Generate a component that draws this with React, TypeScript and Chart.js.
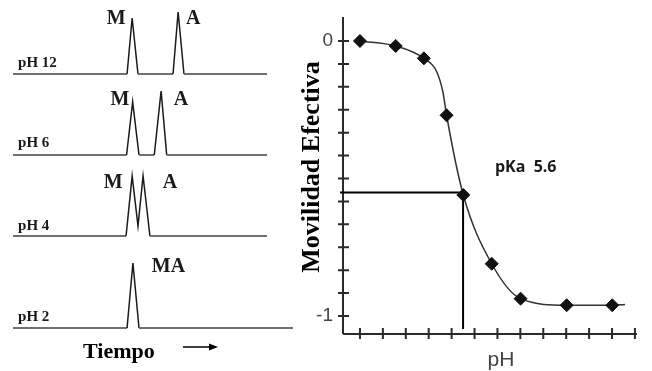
import React, { useEffect, useRef } from 'react';
import { Chart, registerables } from 'chart.js';

Chart.register(...registerables);

// ---------- Left panel: electropherograms (time units, signal units) ----------
const traceNames = ['pH 12', 'pH 6', 'pH 4', 'pH 2'];
const traceOffsets = [29.7, 21.6, 13.5, 4.3];

const timesPH12 = [0, 4.49, 4.69, 4.92, 6.30, 6.50, 6.73, 10];
const signalPH12 = [0, 0, 5.6, 0, 0, 6.2, 0, 0];
const timesPH6 = [0, 4.47, 4.71, 4.96, 5.56, 5.83, 6.05, 10];
const signalPH6 = [0, 0, 5.3, 0, 0, 6.4, 0, 0];
const timesPH4 = [0, 4.45, 4.69, 4.92, 5.12, 5.39, 10];
const signalPH4 = [0, 0, 6.0, 1.0, 6.0, 0, 0];
const timesPH2 = [0, 4.49, 4.72, 4.96, 11.02];
const signalPH2 = [0, 0, 6.5, 0, 0];

const peakLabels = [['M', 'A'], ['M', 'A'], ['M', 'A'], ['MA']];
const peakLabelTimes = [[4.06, 7.09], [4.21, 6.61], [3.94, 6.18], [6.12]];
const peakLabelHeights = [[5.5, 5.5], [5.5, 5.5], [5.3, 5.3], [6.1]];
const traceLabelTime = 0.2;
const traceLabelHeights = [1.1, 1.2, 1.0, 1.1];
const timeAxisLabel = 'Tiempo';

// ---------- Right panel: effective mobility vs pH ----------
const pHValues = [1.0, 2.56, 3.79, 4.78, 5.51, 6.75, 8.01, 10.02, 12.01];
const mobility = [0, -0.018, -0.063, -0.27, -0.56, -0.81, -0.937, -0.961, -0.961];
const curvePH = [1.0, 2.56, 3.79, 4.35, 4.63, 4.78, 5.51, 6.75, 8.01, 10.02, 12.01, 12.57];
const curveMobility = [0, -0.018, -0.063, -0.112, -0.19, -0.27, -0.56, -0.81, -0.937, -0.961, -0.961, -0.958];
const xTicks = [1, 2, 3, 4, 5, 6, 7, 8, 9, 10, 11, 12, 13];
const yTicks = [0, -0.0833, -0.1667, -0.25, -0.3333, -0.4167, -0.5, -0.5833, -0.6667, -0.75, -0.8333, -0.9167, -1];
const yTickLabels = ['0', '-1'];
const yTickLabelValues = [0, -1];
const pKaText = 'pKa  5.6';
const pKaX = 5.5;
const pKaY = -0.551;
const xTitle = 'pH';
const yTitle = 'Movilidad Efectiva';

const traces = [
  { t: timesPH12, s: signalPH12 },
  { t: timesPH6, s: signalPH6 },
  { t: timesPH4, s: signalPH4 },
  { t: timesPH2, s: signalPH2 },
];

export default function App() {
  const leftRef = useRef<HTMLCanvasElement | null>(null);
  const rightRef = useRef<HTMLCanvasElement | null>(null);

  useEffect(() => {
    const leftText = {
      id: 'leftText',
      afterDatasetsDraw(chart: any) {
        const { ctx } = chart;
        const x = chart.scales.x;
        const y = chart.scales.y;
        ctx.save();
        ctx.fillStyle = '#1a1a1a';
        ctx.textAlign = 'center';
        ctx.textBaseline = 'middle';
        ctx.font = "bold 20px 'Liberation Serif'";
        traces.forEach((_, i) => {
          peakLabels[i].forEach((lab, k) => {
            ctx.fillText(lab, x.getPixelForValue(peakLabelTimes[i][k]), y.getPixelForValue(traceOffsets[i] + peakLabelHeights[i][k]));
          });
        });
        ctx.font = "bold 15px 'Liberation Serif'";
        ctx.textAlign = 'left';
        traceNames.forEach((n, i) => {
          ctx.fillText(n, x.getPixelForValue(traceLabelTime), y.getPixelForValue(traceOffsets[i] + traceLabelHeights[i]));
        });
        ctx.font = "bold 22px 'Liberation Serif'";
        ctx.textAlign = 'center';
        ctx.fillStyle = '#000';
        ctx.fillText(timeAxisLabel, x.getPixelForValue(4.17), y.getPixelForValue(1.9));
        // arrow
        const ax0 = x.getPixelForValue(6.69);
        const ax1 = x.getPixelForValue(8.07);
        const ay = y.getPixelForValue(2.4);
        ctx.strokeStyle = '#000';
        ctx.lineWidth = 1.5;
        ctx.beginPath();
        ctx.moveTo(ax0, ay);
        ctx.lineTo(ax1 - 6, ay);
        ctx.stroke();
        ctx.beginPath();
        ctx.moveTo(ax1, ay);
        ctx.lineTo(ax1 - 9, ay - 3.5);
        ctx.lineTo(ax1 - 9, ay + 3.5);
        ctx.closePath();
        ctx.fillStyle = '#000';
        ctx.fill();
        ctx.restore();
      },
    };

    const left = new Chart(leftRef.current as HTMLCanvasElement, {
      type: 'scatter',
      data: {
        datasets: traces.map((tr, i) => ({
          data: tr.t.map((t, j) => ({ x: t, y: traceOffsets[i] + tr.s[j] })),
          showLine: true,
          pointRadius: 0,
          borderColor: '#222',
          borderWidth: 1.5,
          tension: 0,
          clip: false,
          segment: {
            borderColor: (c: any) => (c.p0.parsed.y === c.p1.parsed.y ? '#707070' : '#1a1a1a'),
            borderWidth: (c: any) => (c.p0.parsed.y === c.p1.parsed.y ? 2 : 1.5),
          },
        })) as any,
      },
      options: {
        animation: false,
        responsive: false,
        events: [],
        layout: { padding: 0 },
        plugins: { legend: { display: false }, tooltip: { enabled: false } },
        scales: {
          x: { type: 'linear', display: false, min: -0.512, max: 11.14 },
          y: { type: 'linear', display: false, min: 0, max: 37.1 },
        },
      },
      plugins: [leftText],
    });

    const rightDecor = {
      id: 'rightDecor',
      beforeDatasetsDraw(chart: any) {
        const { ctx, chartArea: ca } = chart;
        const x = chart.scales.x;
        const y = chart.scales.y;
        ctx.save();
        ctx.strokeStyle = '#2a2a2a';
        ctx.lineWidth = 2;
        ctx.beginPath();
        ctx.moveTo(ca.left, ca.top);
        ctx.lineTo(ca.left, ca.bottom);
        ctx.moveTo(ca.left, ca.bottom);
        ctx.lineTo(ca.right, ca.bottom);
        yTicks.forEach((v) => {
          const py = y.getPixelForValue(v);
          ctx.moveTo(ca.left - 5, py);
          ctx.lineTo(ca.left + 6, py);
        });
        xTicks.forEach((v) => {
          const px = x.getPixelForValue(v);
          ctx.moveTo(px, ca.bottom - 6);
          ctx.lineTo(px, ca.bottom + 5);
        });
        ctx.stroke();
        ctx.restore();
      },
      afterDatasetsDraw(chart: any) {
        const { ctx, chartArea: ca } = chart;
        const x = chart.scales.x;
        const y = chart.scales.y;
        ctx.save();
        ctx.fillStyle = '#444';
        ctx.font = "19px 'Liberation Sans'";
        ctx.textAlign = 'right';
        ctx.textBaseline = 'middle';
        yTickLabels.forEach((lab, i) => {
          ctx.fillText(lab, ca.left - 10, y.getPixelForValue(yTickLabelValues[i]));
        });
        ctx.font = "21px 'Liberation Sans'";
        ctx.textAlign = 'center';
        ctx.fillStyle = '#444';
        ctx.fillText(xTitle, x.getPixelForValue(7.15), ca.bottom + 26);
        ctx.fillStyle = '#000';
        ctx.font = "bold 26px 'Liberation Serif'";
        ctx.translate(16, (ca.top + ca.bottom) / 2);
        ctx.rotate(-Math.PI / 2);
        ctx.fillText(yTitle, 8.5, 0);
        ctx.restore();
        ctx.save();
        ctx.fillStyle = '#1a1a1a';
        ctx.font = "bold 16px 'Open Sans'";
        ctx.textAlign = 'left';
        ctx.textBaseline = 'middle';
        ctx.fillText(pKaText, x.getPixelForValue(6.89), y.getPixelForValue(-0.458));
        ctx.restore();
      },
    };

    const right = new Chart(rightRef.current as HTMLCanvasElement, {
      type: 'scatter',
      data: {
        datasets: [
          {
            data: pHValues.map((p, i) => ({ x: p, y: mobility[i] })),
            pointStyle: 'rectRot',
            pointRadius: 6.5,
            backgroundColor: '#111',
            borderColor: '#111',
            borderWidth: 1,
            showLine: false,
            clip: false,
          },
          {
            data: curvePH.map((p, i) => ({ x: p, y: curveMobility[i] })),
            showLine: true,
            pointRadius: 0,
            borderColor: '#333',
            borderWidth: 1.5,
            cubicInterpolationMode: 'monotone',
            clip: false,
          },
          {
            data: [
              { x: 0.13, y: pKaY },
              { x: pKaX, y: pKaY },
              { x: pKaX, y: -1.047 },
            ],
            showLine: true,
            pointRadius: 0,
            borderColor: '#000',
            borderWidth: 2,
            tension: 0,
            clip: false,
          },
        ] as any,
      },
      options: {
        animation: false,
        responsive: false,
        events: [],
        layout: { padding: { left: 47, right: 15, top: 17, bottom: 37 } },
        plugins: { legend: { display: false }, tooltip: { enabled: false } },
        scales: {
          x: { type: 'linear', display: false, min: 0.26, max: 13.09 },
          y: { type: 'linear', display: false, min: -1.0655, max: 0.0873 },
        },
      },
      plugins: [rightDecor],
    });

    return () => {
      left.destroy();
      right.destroy();
    };
  }, []);

  return (
    <div style={{ position: 'absolute', left: 0, top: 0, width: 652, height: 371, background: '#fff', overflow: 'hidden' }}>
      <canvas ref={leftRef} width={296} height={371} style={{ position: 'absolute', left: 0, top: 0, display: 'block' }} />
      <canvas ref={rightRef} width={356} height={371} style={{ position: 'absolute', left: 296, top: 0, display: 'block' }} />
    </div>
  );
}
